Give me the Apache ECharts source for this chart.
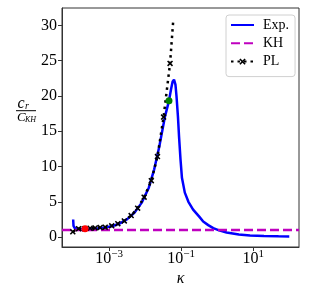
<!DOCTYPE html>
<html><head><meta charset="utf-8">
<script src="https://cdn.jsdelivr.net/npm/echarts@6/dist/echarts.min.js"></script>
<style>html,body{margin:0;padding:0;background:#fff}#c{width:312px;height:288px}</style>
</head><body><div id="c"></div>
<script>
// Exp. curve
const expKappa = [1.000e-4, 1.023e-4, 1.096e-4, 1.259e-4, 1.585e-4, 2.138e-4, 3.162e-4, 5.012e-4, 7.943e-4,
  1.259e-3, 1.995e-3, 3.162e-3, 5.012e-3, 7.943e-3, 0.01259, 0.01778, 0.02455, 0.03548, 0.04571, 0.05248,
  0.05754, 0.06310, 0.06918, 0.07413, 0.08128, 0.08710, 0.09550, 0.1047, 0.1259, 0.1585, 0.2138, 0.3162,
  0.4074, 0.5623, 0.7762, 1.122, 1.820, 3.981, 8.128, 19.95, 50.12, 100];
const expValues = [2.5, 1.6, 1.3, 1.2, 1.15, 1.15, 1.18, 1.25, 1.38,
  1.58, 1.95, 2.55, 3.45, 4.85, 7.0, 9.6, 12.8, 17.1, 19.3, 21.0,
  22.0, 22.3, 21.6, 19.9, 17.0, 14.2, 11.0, 8.4, 6.3, 5.0, 3.9, 2.9,
  2.2, 1.7, 1.27, 0.95, 0.65, 0.38, 0.23, 0.15, 0.11, 0.1];
// PL curve (last point is the end of the dotted line, no marker)
const plKappa = [9.77e-5, 1.413e-4, 2.042e-4, 2.951e-4, 4.074e-4, 5.623e-4, 7.762e-4, 1.175e-3, 1.738e-3,
  2.630e-3, 4.074e-3, 6.166e-3, 9.333e-3, 0.01479, 0.02188, 0.03236, 0.04898, 0.06026];
const plValues = [0.75, 1.2, 1.2, 1.25, 1.3, 1.36, 1.41, 1.6, 1.9,
  2.3, 3.05, 4.1, 5.66, 8.0, 11.4, 17.0, 24.6, 30.8];
// KH constant
const khKappa = [4.898e-5, 186.2];
const khValues = [1, 1];
// highlighted points
const redKappa = [2.138e-4];
const redValues = [1.2];
const greenKappa = [0.04571];
const greenValues = [19.3];
// ticks
const xTickValues = [0.001, 0.1, 10];
const yTickValues = [0, 5, 10, 15, 20, 25, 30];

const SERIF = '"Liberation Serif", "DejaVu Serif", serif';
const zip = (a, b) => a.map((v, i) => [v, b[i]]);
const xPath = 'path://M0,1.8L1.8,0L10,8.2L8.2,10Z M8.2,0L10,1.8L1.8,10L0,8.2Z';

const chart = echarts.init(document.getElementById('c'), null, {renderer: 'canvas'});
chart.setOption({
  animation: false,
  backgroundColor: '#fff',
  grid: {left: 62, right: 13, top: 8, bottom: 41, show: true, borderColor: '#333', borderWidth: 1,
    containLabel: false, outerBoundsMode: 'none'},
  xAxis: {
    type: 'log', logBase: 10, min: khKappa[0], max: khKappa[1],
    name: 'κ', nameLocation: 'middle', nameGap: 24, nameMoveOverlap: false,
    nameTextStyle: {fontFamily: SERIF, fontStyle: 'italic', fontSize: 16, color: '#000'},
    axisLine: {show: true, onZero: false, lineStyle: {color: '#333', width: 1}},
    axisTick: {show: true, inside: false, length: 4, lineStyle: {color: '#333'}, customValues: xTickValues},
    minorTick: {show: false},
    splitLine: {show: false},
    axisLabel: {
      customValues: xTickValues, margin: 2,
      formatter: function (v) {
        const n = Math.round(Math.log10(v));
        return '{b|10}{s|' + (n < 0 ? '\u2212' + (-n) : String(n)) + '}';
      },
      rich: {
        b: {fontFamily: SERIF, fontSize: 16, color: '#000', lineHeight: 18, verticalAlign: 'bottom'},
        s: {fontFamily: SERIF, fontSize: 11, color: '#000', lineHeight: 11, verticalAlign: 'top'}
      },
      lineHeight: 22
    }
  },
  yAxis: {
    type: 'value', min: -1.4, max: 32.45,
    axisLine: {show: true, onZero: false, lineStyle: {color: '#333', width: 1}},
    axisTick: {show: true, inside: false, length: 4, lineStyle: {color: '#333'}, customValues: yTickValues},
    splitLine: {show: false},
    axisLabel: {customValues: yTickValues, margin: 5, fontFamily: SERIF, fontSize: 16, color: '#000'}
  },
  legend: {
    orient: 'vertical', left: 226, top: 15,
    padding: [3, 6, 8, 4], itemGap: 4.3, itemWidth: 23, itemHeight: 8,
    backgroundColor: '#fff', borderColor: '#d0d0d0', borderWidth: 1, borderRadius: 3,
    textStyle: {fontFamily: SERIF, fontSize: 14, lineHeight: 14, color: '#000', padding: [0, 0, 0, 4]},
    data: [
      {name: 'Exp.', itemStyle: {opacity: 0}},
      {name: 'KH', itemStyle: {opacity: 0}},
      {name: 'PL'}
    ]
  },
  graphic: [
    {type: 'text', style: {text: 'c', x: 21, y: 103.3, font: 'italic 16px ' + SERIF, fill: '#000', align: 'center', verticalAlign: 'middle'}},
    {type: 'text', style: {text: 'r', x: 27, y: 106, font: 'italic 10px ' + SERIF, fill: '#000', align: 'center', verticalAlign: 'middle'}},
    {type: 'line', shape: {x1: 16, y1: 110.7, x2: 36, y2: 110.7}, style: {stroke: '#000', lineWidth: 1}},
    {type: 'text', style: {text: 'C', x: 21.3, y: 117.5, font: 'italic 13px ' + SERIF, fill: '#000', align: 'center', verticalAlign: 'middle'}},
    {type: 'text', style: {text: 'KH', x: 30.5, y: 120, font: 'italic 8px ' + SERIF, fill: '#000', align: 'center', verticalAlign: 'middle'}}
  ],
  series: [
    {name: 'Exp.', type: 'line', data: zip(expKappa, expValues), symbol: 'none', showSymbol: false,
      lineStyle: {color: '#0000ff', width: 2.5}, itemStyle: {color: '#0000ff'}},
    {name: 'KH', type: 'line', data: zip(khKappa, khValues), symbol: 'none', showSymbol: false,
      lineStyle: {color: '#bf00bf', width: 2.5, type: [9, 4]}, itemStyle: {color: '#bf00bf'}},
    {name: 'PL', type: 'line',
      data: plKappa.map((k, i) => i === plKappa.length - 1 ? {value: [k, plValues[i]], symbol: 'none'} : [k, plValues[i]]),
      symbol: xPath, symbolSize: 6, showSymbol: true, showAllSymbol: true,
      lineStyle: {color: '#000', width: 2.5, type: [2.5, 4]}, itemStyle: {color: '#000'}},
    {name: 'red', type: 'scatter', z: 10, data: zip(redKappa, redValues), symbol: 'circle', symbolSize: 7,
      itemStyle: {color: '#ff0000', opacity: 1}},
    {name: 'green', type: 'scatter', z: 10, data: zip(greenKappa, greenValues), symbol: 'circle', symbolSize: 7,
      itemStyle: {color: '#008000', opacity: 1}}
  ]
});
</script>
</body></html>
